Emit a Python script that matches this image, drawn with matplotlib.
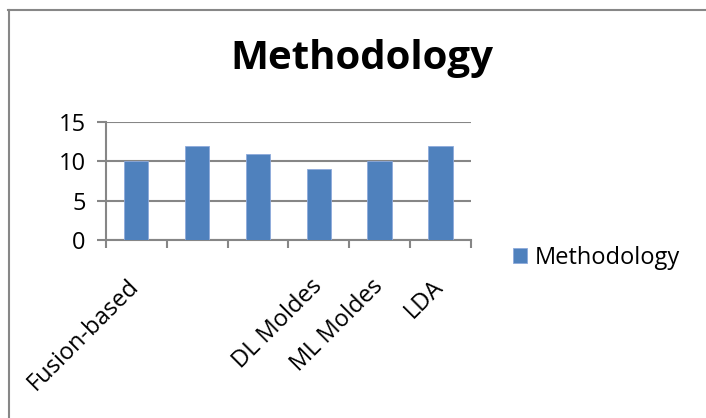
import numpy as np
import matplotlib.pyplot as plt
from matplotlib.lines import Line2D
from matplotlib.transforms import ScaledTranslation

categories = ["Fusion-based", "", "", "DL Moldes", "ML Moldes", "LDA"]
values = [10, 12, 11, 9, 10, 12]
series_name = "Methodology"
yticks = [0, 5, 10, 15]

plt.rcParams['font.family'] = ['Open Sans', 'DejaVu Sans']

fig = plt.figure(figsize=(7.06, 4.18), dpi=100)
ax = fig.add_axes([0.150, 0.4258, 0.517, 0.282])

x = np.arange(len(categories))
ax.bar(x, values, width=0.4, color='#4F81BD', edgecolor='#8EAADB', linewidth=0.6,
       label=series_name, zorder=3)

ax.set_xlim(-0.5, len(categories) - 0.5)
ax.set_ylim(0, 15)
ax.set_yticks(yticks)
ax.set_yticklabels([str(v) for v in yticks], fontsize=17)
ax.yaxis.grid(True, color='#868686', linewidth=1.5, zorder=0)

# category boundaries carry the ticks, labels sit under the bar centres
ax.set_xticks(np.arange(len(categories) + 1) - 0.5)
ax.set_xticklabels([])
ax.set_xticks(x, minor=True)
ax.set_xticklabels(categories, minor=True, rotation=45, ha='right', va='top',
                   rotation_mode='anchor', fontsize=17)
ax.tick_params(axis='x', which='minor', length=0, pad=25)
ax.tick_params(axis='x', which='major', length=6, width=1.5, color='#868686')
ax.tick_params(axis='y', length=6.5, width=1.5, color='#868686', pad=8)

shift = ScaledTranslation(-9 / 100, 0, fig.dpi_scale_trans)
for lbl in ax.get_xticklabels(minor=True):
    lbl.set_transform(lbl.get_transform() + shift)

for s in ['top', 'right']:
    ax.spines[s].set_visible(False)
for s in ['left', 'bottom']:
    ax.spines[s].set_color('#868686')
    ax.spines[s].set_linewidth(1.5)

fig.text(0.513, 0.86, "Methodology", fontsize=29, fontweight='bold',
         ha='center', va='center')

ax.legend(frameon=False, loc='center left', bbox_to_anchor=(0.726, 0.383),
          bbox_transform=fig.transFigure, fontsize=17, handlelength=0.6,
          handleheight=0.6, handletextpad=0.35, borderpad=0, borderaxespad=0)

# partial frame around the chart
fig.add_artist(Line2D([8 / 706, 1.0], [1 - 10 / 418] * 2, color='#878787',
                      linewidth=1.5, transform=fig.transFigure))
fig.add_artist(Line2D([9 / 706] * 2, [0, 1 - 10 / 418], color='#878787',
                      linewidth=1.5, transform=fig.transFigure))

fig.savefig("out.png", dpi=100)
